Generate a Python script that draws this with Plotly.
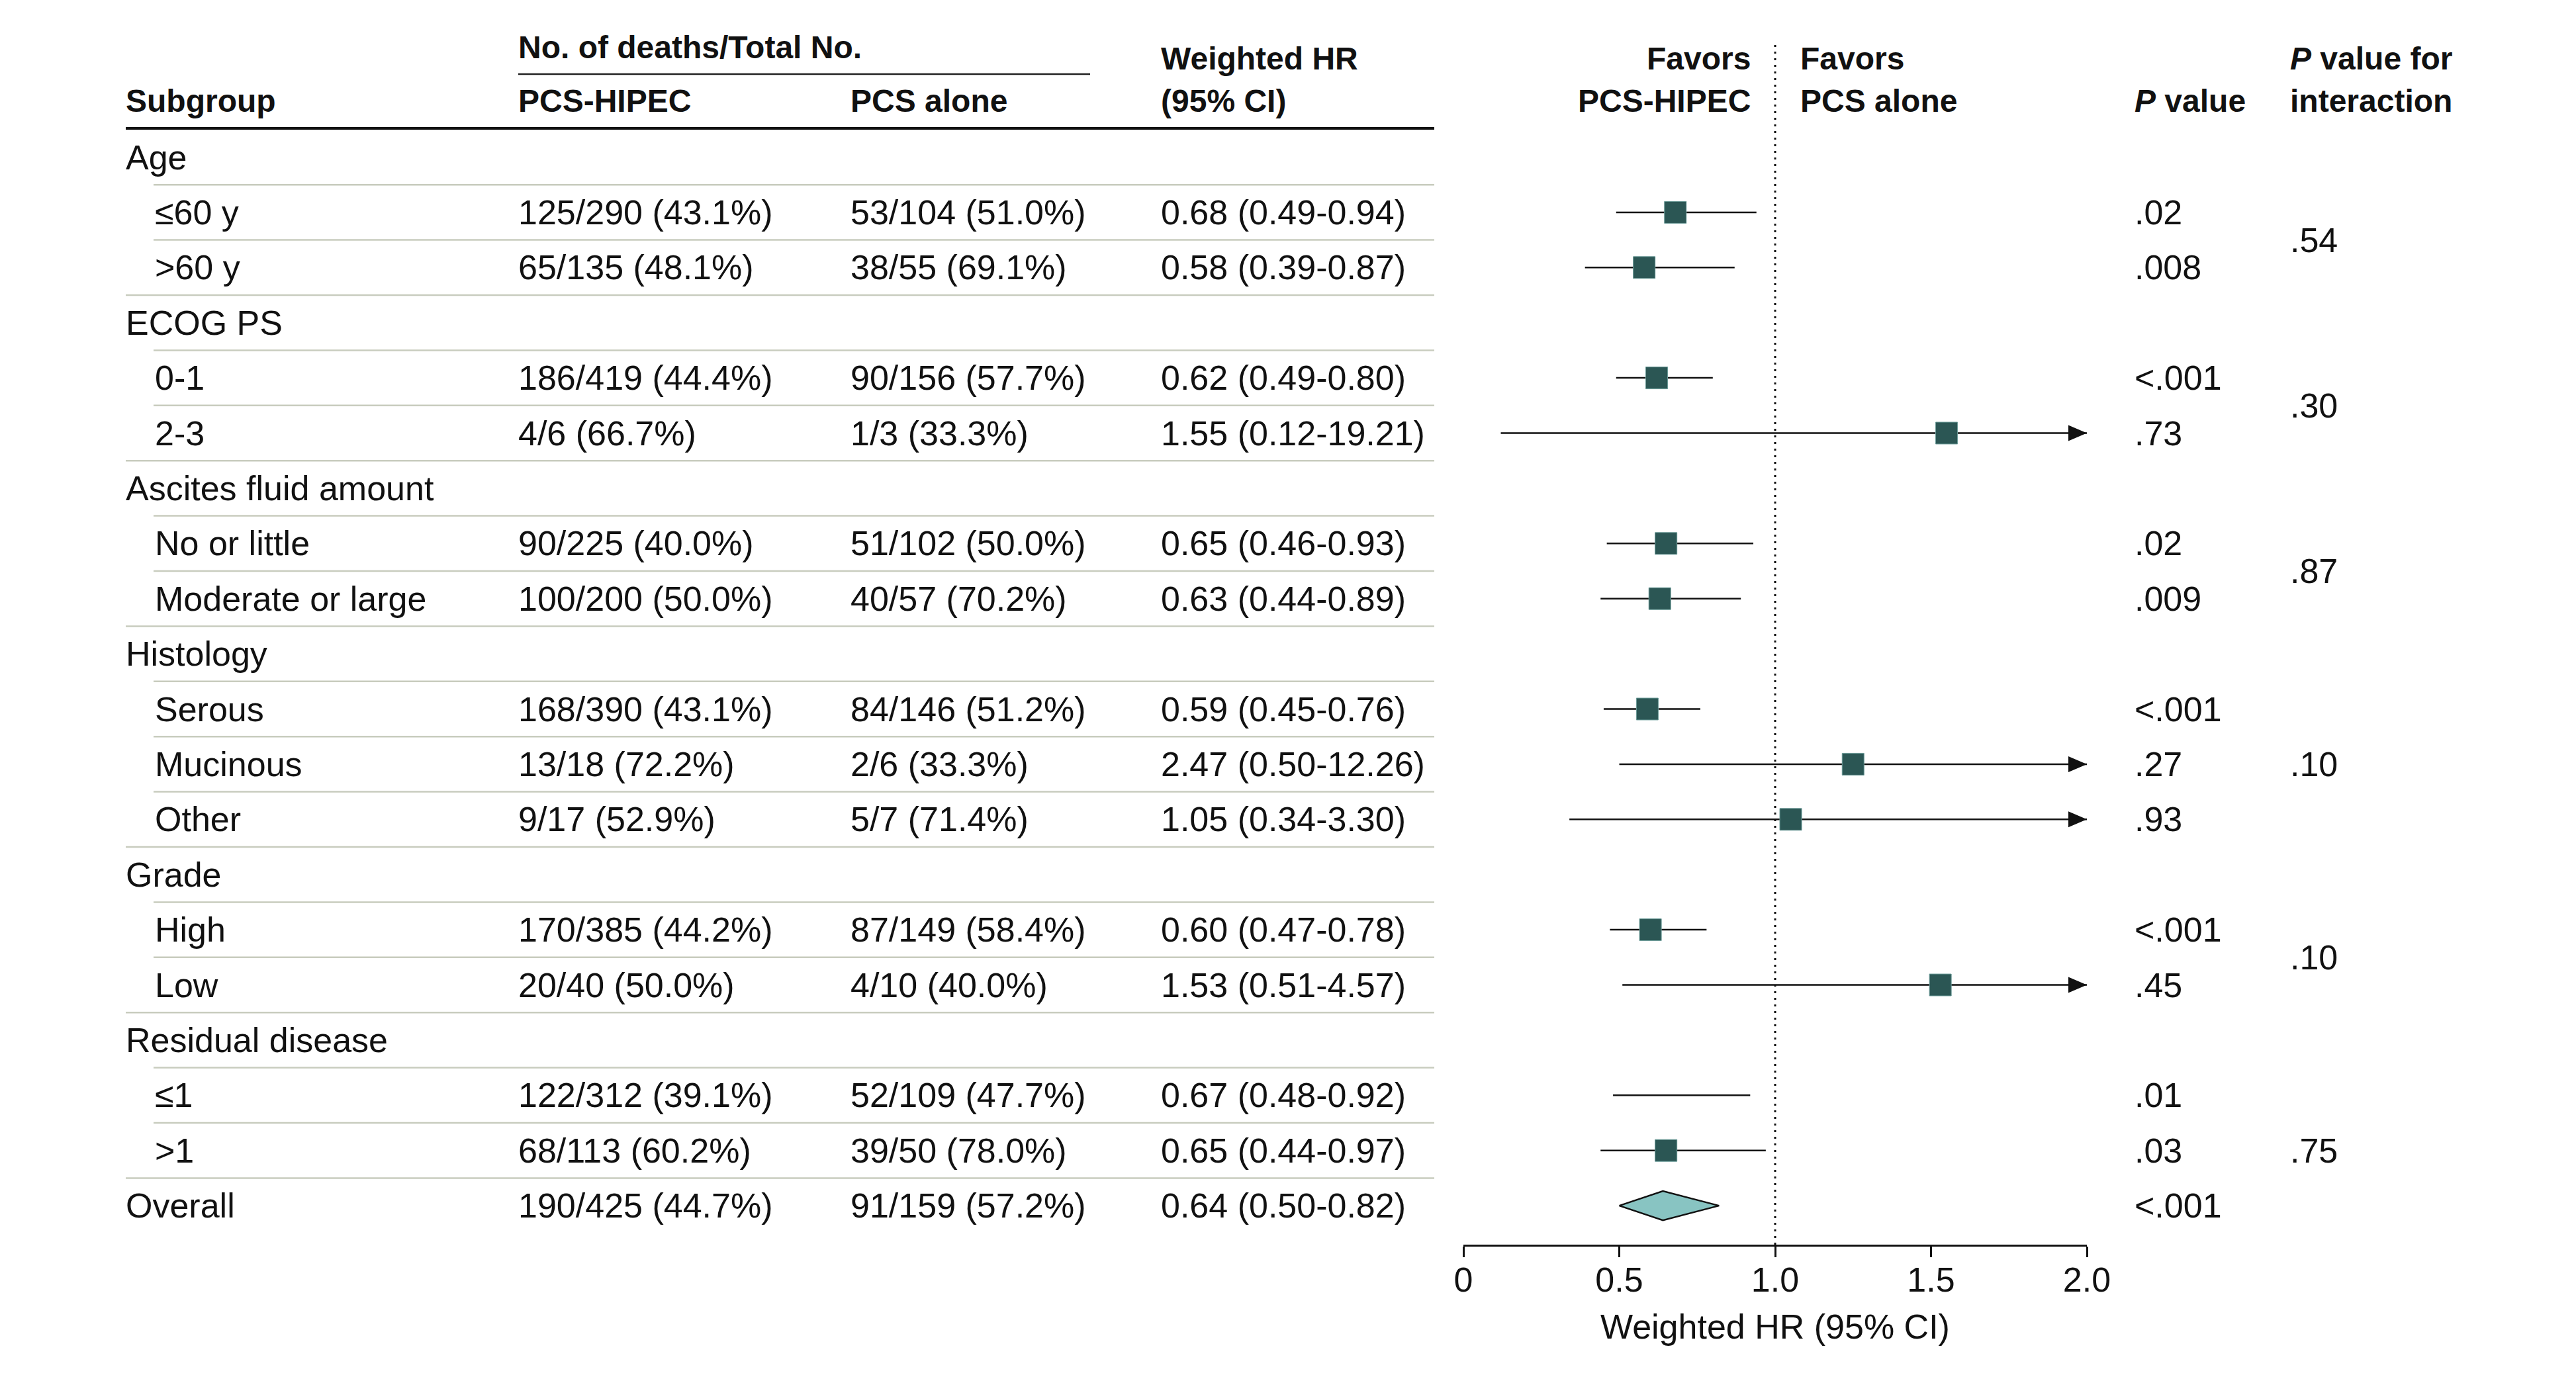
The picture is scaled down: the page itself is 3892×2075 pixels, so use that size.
import plotly.graph_objects as go

# ---------------- data ----------------
labels = ["Age", "≤60 y", ">60 y", "ECOG PS", "0-1", "2-3", "Ascites fluid amount",
          "No or little", "Moderate or large", "Histology", "Serous", "Mucinous", "Other",
          "Grade", "High", "Low", "Residual disease", "≤1", ">1", "Overall"]
indent = [0, 1, 1, 0, 1, 1, 0, 1, 1, 0, 1, 1, 1, 0, 1, 1, 0, 1, 1, 0]
hipec = ["", "125/290 (43.1%)", "65/135 (48.1%)", "", "186/419 (44.4%)", "4/6 (66.7%)", "",
         "90/225 (40.0%)", "100/200 (50.0%)", "", "168/390 (43.1%)", "13/18 (72.2%)", "9/17 (52.9%)",
         "", "170/385 (44.2%)", "20/40 (50.0%)", "", "122/312 (39.1%)", "68/113 (60.2%)", "190/425 (44.7%)"]
alone = ["", "53/104 (51.0%)", "38/55 (69.1%)", "", "90/156 (57.7%)", "1/3 (33.3%)", "",
         "51/102 (50.0%)", "40/57 (70.2%)", "", "84/146 (51.2%)", "2/6 (33.3%)", "5/7 (71.4%)",
         "", "87/149 (58.4%)", "4/10 (40.0%)", "", "52/109 (47.7%)", "39/50 (78.0%)", "91/159 (57.2%)"]
hr = [None, 0.68, 0.58, None, 0.62, 1.55, None, 0.65, 0.63, None, 0.59, 2.47, 1.05,
      None, 0.60, 1.53, None, 0.67, 0.65, 0.64]
lo = [None, 0.49, 0.39, None, 0.49, 0.12, None, 0.46, 0.44, None, 0.45, 0.50, 0.34,
      None, 0.47, 0.51, None, 0.48, 0.44, 0.50]
hi = [None, 0.94, 0.87, None, 0.80, 19.21, None, 0.93, 0.89, None, 0.76, 12.26, 3.30,
      None, 0.78, 4.57, None, 0.92, 0.97, 0.82]
# square positions as drawn in the figure (Mucinous square drawn near 1.25, none for <=1)
hr_drawn = [None, 0.68, 0.58, None, 0.62, 1.55, None, 0.65, 0.63, None, 0.59, 1.25, 1.05,
            None, 0.60, 1.53, None, None, 0.65, None]
p_value = ["", ".02", ".008", "", "<.001", ".73", "", ".02", ".009", "", "<.001", ".27", ".93",
           "", "<.001", ".45", "", ".01", ".03", "<.001"]
p_inter_row = [1.5, 4.5, 7.5, 11, 14.5, 18]
p_inter_val = [".54", ".30", ".87", ".10", ".10", ".75"]
tick_vals = [0, 0.5, 1.0, 1.5, 2.0]
tick_text = ["0", "0.5", "1.0", "1.5", "2.0"]
XMAX = 2.0

# ---------------- layout geometry ----------------
W, H = 3892, 2075
FONT = "Liberation Sans, Arial, sans-serif"
FS = 52
FS_HEAD = 48
TXT = "#111111"
GRAY = "#c8ccbe"
ROW0, PITCH = 237.5, 83.4          # pixel centre of row 0, row pitch
AX_Y = 1881                        # pixel y of x-axis line
X0PX, X2PX = 2211, 3153            # pixel x of 0 and 2.0


def px(x):
    return x / W


def row_of(ypx):
    return (ypx - ROW0) / PITCH


fig = go.Figure()

# CI lines
n = len(labels)
cx, cy = [], []
for i in range(n - 1):
    if lo[i] is not None:
        cx += [lo[i], min(hi[i], XMAX), None]
        cy += [i, i, None]
fig.add_trace(go.Scatter(x=cx, y=cy, mode="lines", line=dict(color="#111111", width=2.5),
                         hoverinfo="skip", showlegend=False))

# arrowheads for CIs beyond axis
ah_len = 28 / (X2PX - X0PX) * XMAX
ah_h = 12 / PITCH
for i in range(n - 1):
    if hi[i] is not None and hi[i] > XMAX:
        fig.add_trace(go.Scatter(x=[XMAX - ah_len, XMAX, XMAX - ah_len, XMAX - ah_len],
                                 y=[i - ah_h, i, i + ah_h, i - ah_h], mode="lines",
                                 fill="toself", fillcolor="#111111", line=dict(width=0, color="#111111"),
                                 hoverinfo="skip", showlegend=False))

# squares
sx = [v for v in hr_drawn if v is not None]
sy = [i for i, v in enumerate(hr_drawn) if v is not None]
fig.add_trace(go.Scatter(x=sx, y=sy, mode="markers",
                         marker=dict(symbol="square", size=33, color="#2b5654",
                                     line=dict(color="#6b9b98", width=1)),
                         hoverinfo="skip", showlegend=False))

# overall diamond
k = n - 1
dh = 22 / PITCH
fig.add_trace(go.Scatter(x=[lo[k], hr[k], hi[k], hr[k], lo[k]],
                         y=[k, k - dh, k, k + dh, k], mode="lines", fill="toself",
                         fillcolor="#88c4c2", line=dict(color="#111111", width=2.5),
                         hoverinfo="skip", showlegend=False))

shapes = []
# null line
shapes.append(dict(type="line", xref="x", yref="y", x0=1, x1=1, y0=row_of(68), y1=row_of(AX_Y),
                   line=dict(color="#111111", width=3, dash="3px,7px"), layer="below"))
# table rules
shapes.append(dict(type="line", xref="paper", yref="y", x0=px(190), x1=px(2167),
                   y0=row_of(194), y1=row_of(194), line=dict(color="#111111", width=4)))
shapes.append(dict(type="line", xref="paper", yref="y", x0=px(783), x1=px(1647),
                   y0=row_of(112), y1=row_of(112), line=dict(color="#222222", width=2.5)))
for i in range(n - 1):
    xs = 232 if indent[i + 1] == 1 else 190
    shapes.append(dict(type="line", xref="paper", yref="y", x0=px(xs), x1=px(2167),
                       y0=i + 0.5, y1=i + 0.5, line=dict(color=GRAY, width=2.5)))

ann = []


def add_text(xp, row, text, anchor="left", bold=False, size=None):
    if size is None:
        size = FS_HEAD if bold else FS
    t = "<b>" + text + "</b>" if bold else text
    ann.append(dict(xref="paper", yref="y", x=px(xp), y=row, text=t, showarrow=False,
                    xanchor=anchor, yanchor="middle", font=dict(family=FONT, size=size, color=TXT),
                    borderpad=0, borderwidth=0))


# headers
r1, r2, r0 = row_of(88.5), row_of(152.5), row_of(71)
add_text(190, r2, "Subgroup", bold=True)
add_text(783, r0, "No. of deaths/Total No.", bold=True)
add_text(783, r2, "PCS-HIPEC", bold=True)
add_text(1285, r2, "PCS alone", bold=True)
add_text(1754, r1, "Weighted HR", bold=True)
add_text(1754, r2, "(95% CI)", bold=True)
add_text(2645, r1, "Favors", anchor="right", bold=True)
add_text(2645, r2, "PCS-HIPEC", anchor="right", bold=True)
add_text(2720, r1, "Favors", bold=True)
add_text(2720, r2, "PCS alone", bold=True)
add_text(3225, r2, "<i>P</i> value", bold=True)
add_text(3460, r1, "<i>P</i> value for", bold=True)
add_text(3460, r2, "interaction", bold=True)

# body
for i in range(n):
    add_text(190 if indent[i] == 0 else 234, i, labels[i])
    if hipec[i]:
        add_text(783, i, hipec[i])
        add_text(1285, i, alone[i])
        add_text(1754, i, "%.2f (%.2f-%.2f)" % (hr[i], lo[i], hi[i]))
    if p_value[i]:
        add_text(3225, i, p_value[i])
for r, v in zip(p_inter_row, p_inter_val):
    add_text(3460, r, v)

# axis title
ann.append(dict(xref="paper", yref="paper", x=px((X0PX + X2PX) / 2), y=1 - 2005 / H,
                text="Weighted HR (95% CI)", showarrow=False, xanchor="center", yanchor="middle",
                font=dict(family=FONT, size=FS, color=TXT)))

fig.update_layout(
    template="none",
    width=W, height=H, margin=dict(l=0, r=0, t=0, b=0, pad=0), autosize=False,
    paper_bgcolor="white", plot_bgcolor="white",
    showlegend=False, shapes=shapes, annotations=ann,
    xaxis=dict(domain=[px(X0PX), px(X2PX)], range=[0, XMAX], showgrid=False, zeroline=False,
               showline=True, linecolor="#111111", linewidth=2.5, ticks="outside", ticklen=16,
               tickwidth=2.5, tickcolor="#111111", tickvals=tick_vals, ticktext=tick_text,
               ticklabelstandoff=-10,
               tickfont=dict(family=FONT, size=FS, color=TXT), fixedrange=True, automargin=False),
    yaxis=dict(domain=[1 - AX_Y / H, 1], range=[row_of(AX_Y), row_of(0)], visible=False,
               showgrid=False, zeroline=False, fixedrange=True, automargin=False),
)

fig.write_html("out.html", config={"responsive": False, "displayModeBar": False},
               post_script="document.body.style.margin='0';document.body.style.overflow='hidden';")
